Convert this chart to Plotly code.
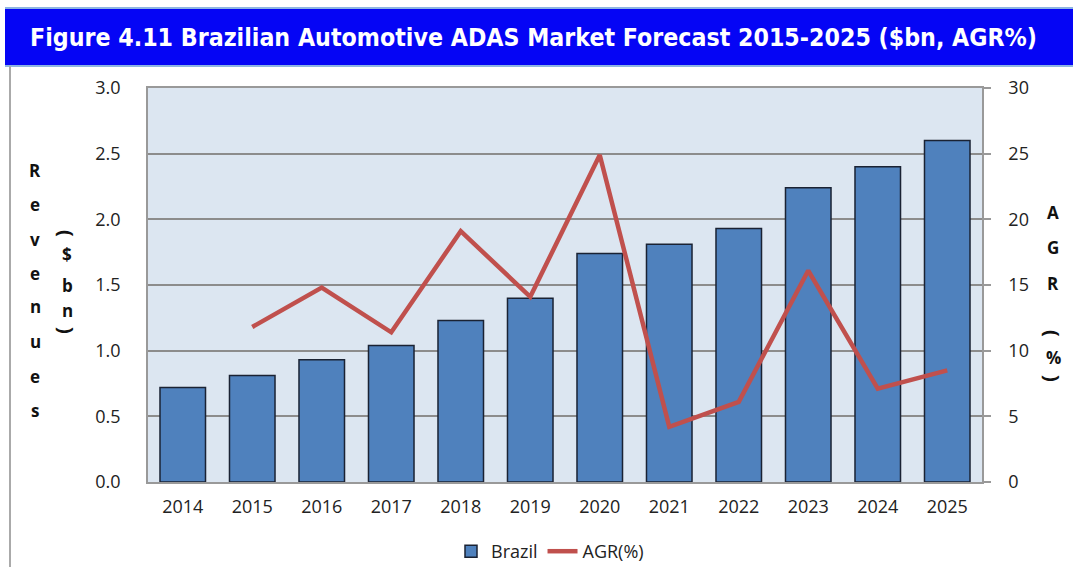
import plotly.graph_objects as go

years = ["2014", "2015", "2016", "2017", "2018", "2019", "2020", "2021", "2022", "2023", "2024", "2025"]
revenues = [0.72, 0.81, 0.93, 1.04, 1.23, 1.40, 1.74, 1.81, 1.93, 2.24, 2.40, 2.60]
agr = [None, 11.8, 14.8, 11.4, 19.1, 14.1, 24.9, 4.2, 6.1, 16.1, 7.1, 8.5]
left_ticks = [0, 0.5, 1.0, 1.5, 2.0, 2.5, 3.0]
right_ticks = [0, 5, 10, 15, 20, 25, 30]

W, H = 1073, 567
L, R, T, B = 148, 91, 88, 85
pw, ph = W - L - R, H - T - B

def px(x):
    return (x - L) / pw

def py(y):
    return (H - B - y) / ph

fig = go.Figure()
fig.add_trace(go.Bar(
    x=years, y=revenues, name="Brazil",
    marker=dict(color="#4F81BD", line=dict(color="#1A2233", width=1.5)),
    yaxis="y",
))
fig.add_trace(go.Scatter(
    x=years, y=agr, name="AGR(%)", mode="lines",
    line=dict(color="#C0504D", width=4.5),
    yaxis="y2",
))

font_main = "Open Sans, Liberation Sans, sans-serif"
tick_font = dict(family=font_main, size=18, color="#222")

fig.update_layout(
    width=W, height=H,
    margin=dict(l=L, r=R, t=T, b=B, autoexpand=False),
    paper_bgcolor="white",
    plot_bgcolor="#DCE6F1",
    bargap=0.345,
    showlegend=True,
    legend=dict(
        orientation="h", x=px(550), xanchor="center", y=py(533), yanchor="top",
        font=dict(family=font_main, size=18, color="#222"),
        bgcolor="rgba(0,0,0,0)",
    ),
    xaxis=dict(
        type="category", showgrid=False, showline=True, linecolor="#999999", linewidth=1.5,
        mirror=True, ticks="", ticklabelstandoff=8, tickfont=tick_font,
    ),
    yaxis=dict(
        range=[0, 3.0], tickvals=left_ticks, ticktext=[f"{v:.1f}" for v in left_ticks],
        showgrid=True, gridcolor="#8C8C8C", gridwidth=1.5, zeroline=False,
        showline=True, linecolor="#999999", linewidth=1.5,
        ticks="", ticklabelstandoff=22,
        tickfont=tick_font,
    ),
    yaxis2=dict(
        range=[0, 30], tickvals=right_ticks, overlaying="y", side="right",
        showgrid=False, zeroline=False, showline=True, linecolor="#999999", linewidth=1.5,
        ticks="outside", ticklen=7, tickcolor="#999999", tickwidth=1.5,
        ticklabelstandoff=14,
        tickfont=tick_font,
    ),
)

shapes = []
# title bar
shapes.append(dict(type="rect", xref="paper", yref="paper",
                   x0=px(5), x1=px(W + 5), y0=py(65), y1=py(8),
                   fillcolor="#0505F5", line=dict(width=0), layer="above"))
shapes.append(dict(type="line", xref="paper", yref="paper",
                   x0=px(5), x1=px(W + 5), y0=py(8), y1=py(8),
                   line=dict(color="#8DB4E2", width=2)))
shapes.append(dict(type="line", xref="paper", yref="paper",
                   x0=px(5), x1=px(W + 5), y0=py(66), y1=py(66),
                   line=dict(color="#8DB4E2", width=2)))
# left frame line
shapes.append(dict(type="line", xref="paper", yref="paper",
                   x0=px(10), x1=px(10), y0=py(66), y1=py(H),
                   line=dict(color="#AAAAAA", width=2)))
fig.update_layout(shapes=shapes)

ann = []
ann.append(dict(text="<b>Figure 4.11 Brazilian Automotive ADAS Market Forecast 2015-2025 ($bn, AGR%)</b>",
                xref="paper", yref="paper", x=px(28), y=py(38), xanchor="left", yanchor="middle",
                showarrow=False,
                font=dict(family="DejaVu Sans Condensed, Liberation Sans Narrow, sans-serif", size=24.7, color="white")))

letter_font = dict(family=font_main, size=17, color="#111")

def stack(chars, x, ys, angles):
    for c, yy, a in zip(chars, ys, angles):
        f = dict(letter_font)
        if a:
            f["size"] = 20
        ann.append(dict(text=f"<b>{c}</b>", xref="paper", yref="paper", x=px(x), y=py(yy),
                        xanchor="center", yanchor="middle", showarrow=False,
                        textangle=a, font=f))

stack(list("Revenues"), 35, [170, 204, 239, 273, 306, 341, 376, 410], [0] * 8)
stack(["(", "$", "b", "n", ")"], 67, [233, 254, 285, 310, 330], [90, 0, 0, 0, 90])
stack(["A", "G", "R", "(", "%", ")"], 1053, [212, 247, 283, 333, 357, 378], [0, 0, 0, 90, 0, 90])

fig.update_layout(annotations=ann)

fig.write_html("out.html", config={"displayModeBar": False},
               post_script="document.body.style.margin='0px';document.body.style.overflow='hidden';")
